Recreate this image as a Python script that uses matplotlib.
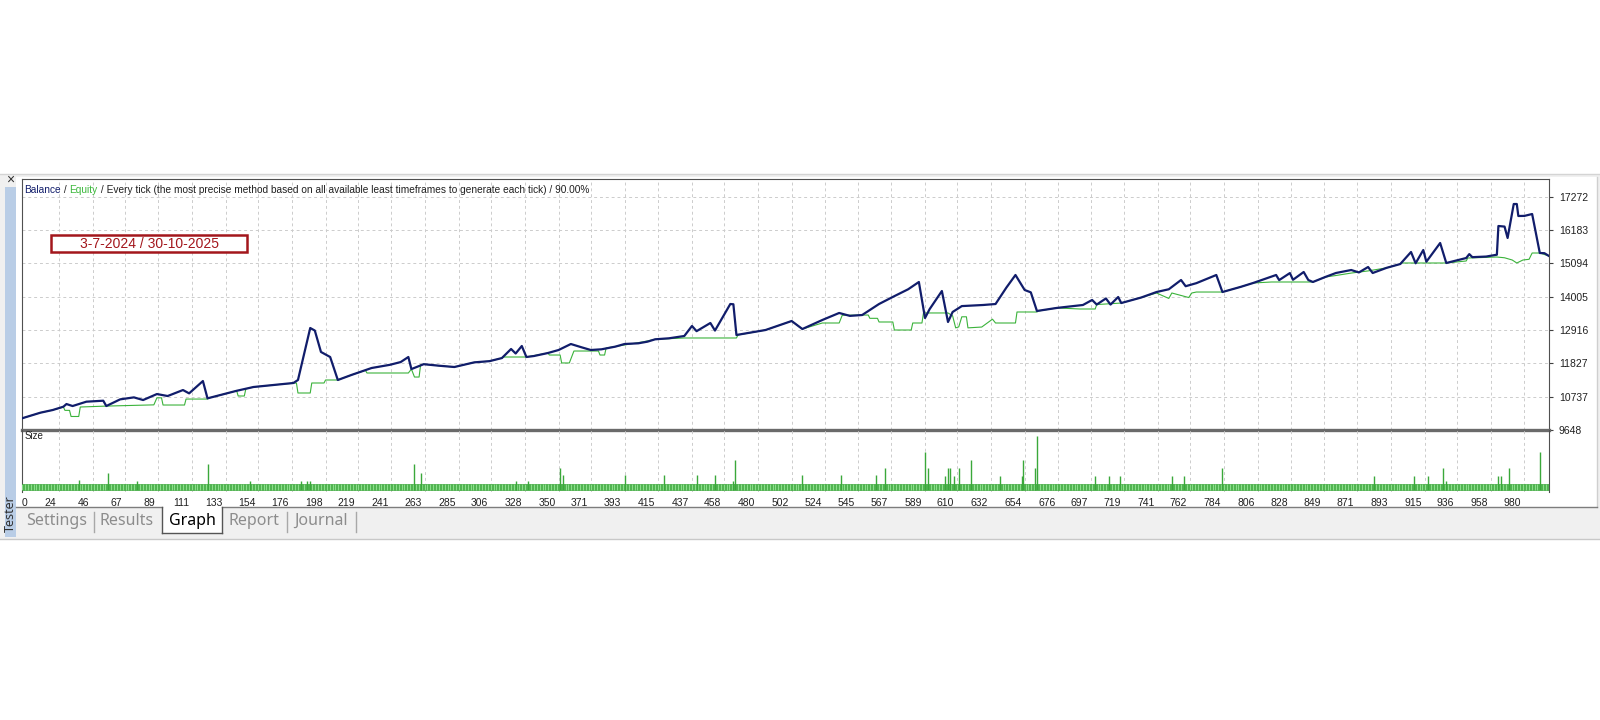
import matplotlib.pyplot as plt
from matplotlib.patches import Rectangle
from matplotlib.lines import Line2D
from matplotlib.transforms import ScaledTranslation
import numpy as np

W, H = 1600, 720

# balance line (dark blue): trade number / value
bal_trade = [0, 12, 20, 27, 29, 33, 42, 53, 55, 64, 73, 79, 88, 95, 105, 109, 118, 121, 130, 140,
             151, 160, 170, 177, 180, 188, 191, 195, 201, 206, 215, 228, 240, 247, 252, 254, 262, 272, 282, 295,
             305, 313, 319, 322, 326, 329, 334, 343, 350, 358, 365, 371, 378, 387, 393, 402, 408, 413, 422, 432,
             437, 440, 449, 452, 462, 464,
             466, 485, 502, 509, 522, 533, 540, 548, 559, 568, 578, 585, 589, 592, 600, 604, 607, 613, 627, 635,
             642, 648, 654, 658, 662, 675, 692, 698, 701, 707, 710, 715, 717, 730, 740, 748, 756, 759, 766, 779,
             783, 795, 803, 818, 820, 827, 829, 836, 839, 842, 850, 857, 867, 872, 878, 881, 890, 899, 906, 909,
             914, 916, 925, 929, 942, 944, 946, 955, 962, 963, 967, 969, 973, 975, 976, 980, 985, 990, 993, 996]
bal_value = [10030, 10214, 10301, 10410, 10497, 10432, 10574, 10606, 10432, 10650, 10715, 10628, 10824, 10759, 10955, 10846, 11249, 10683, 10800, 10930,
             11054, 11100, 11150, 11185, 11283, 12983, 12900, 12200, 12035, 11283, 11450, 11675, 11780, 11870, 12035, 11640, 11800, 11750, 11708, 11860,
             11900, 12000, 12297, 12150, 12395, 12035, 12068, 12165, 12264, 12460, 12352, 12264, 12287, 12374, 12460, 12483, 12537, 12614, 12647, 12722,
             13050, 12880, 13147, 12900, 13768, 13760,
             12755, 12918, 13212, 12950, 13245, 13475, 13380, 13408, 13768, 14000, 14250, 14488, 13310, 13600, 14193, 13180, 13507, 13700, 13736, 13768,
             14300, 14717, 14226, 14150, 13540, 13640, 13736, 13900, 13750, 13950, 13750, 13997, 13800, 13980, 14160, 14250, 14553, 14350, 14450, 14717,
             14160, 14330, 14455, 14717, 14550, 14780, 14560, 14815, 14553, 14488, 14650, 14782, 14880, 14800, 14978, 14782, 14950, 15076, 15469, 15100,
             15534, 15150, 15763, 15109, 15272, 15400, 15300, 15320, 15380, 16319, 16300, 15927, 17038, 17038, 16646, 16650, 16711, 15436, 15430, 15338]

# equity line (green, stepped)
eq_trade = [0, 12, 20, 27, 28, 31, 32, 37, 38, 55, 86, 88, 91, 92, 106, 107, 121, 122, 130, 140,
            141, 145, 146, 151, 160, 170, 179, 180, 188, 189, 197, 198, 206, 215, 224, 225, 252, 254, 256, 259,
            260, 262, 272, 282, 295, 305, 313, 314, 329, 343, 344, 351, 352, 357, 360, 376, 377, 380, 381, 393,
            405, 413, 432, 466, 467, 485, 502, 509, 522, 533, 535, 552, 553, 558, 559, 568, 569, 580, 581, 587,
            588, 604, 607, 609,
            611, 613, 616, 617, 626, 633, 635, 648, 649, 662, 663, 675, 690, 700, 701, 717, 730, 740, 748, 750,
            761, 763, 766, 783, 795, 803, 815, 838, 842, 850, 857, 867, 878, 890, 899, 900, 929, 942, 943, 962,
            967, 972, 975, 979, 983, 985, 990, 996]
eq_value = [10030, 10214, 10301, 10400, 10290, 10290, 10090, 10090, 10400, 10430, 10470, 10700, 10700, 10465, 10465, 10660, 10660, 10695, 10800, 10930,
            10760, 10760, 10990, 11054, 11100, 11150, 11185, 10858, 10858, 11185, 11185, 11283, 11283, 11450, 11600, 11512, 11512, 11640, 11380, 11380,
            11780, 11800, 11750, 11708, 11860, 11900, 12000, 12035, 12035, 12165, 12100, 12100, 11840, 11840, 12231, 12231, 12100, 12100, 12330, 12428,
            12530, 12614, 12657, 12657, 12755, 12918, 13212, 12950, 13147, 13147, 13400, 13408, 13300, 13300, 13180, 13180, 12918, 12918, 13147, 13147,
            13475, 13475, 13380, 12988,
            13020, 13350, 13350, 12988, 13015, 13272, 13147, 13147, 13507, 13507, 13540, 13640, 13605, 13605, 13750, 13800, 13980, 14128, 13950, 14128,
            13980, 14128, 14160, 14160, 14330, 14455, 14488, 14488, 14488, 14650, 14700, 14780, 14850, 14950, 15076, 15109, 15109, 15175, 15272, 15305,
            15280, 15207, 15109, 15207, 15230, 15436, 15436, 15338]

# size panel: one bar per trade, base lot plus the bigger ones
n_trades = 997
base_lot = 1.0
spike_trade = [37, 56, 75, 121, 149, 182, 186, 188, 256, 260,
               322, 330, 351, 353, 393, 419, 440, 452, 464, 465,
               509, 534, 557, 563, 589, 591, 602, 604, 605, 608,
               611, 619, 638, 652, 653, 661, 662, 700, 709, 716,
               750, 758, 783, 882, 908, 917, 927, 929, 963, 965,
               970, 990]
spike_lot = [1.7, 2.8, 1.5, 4.3, 1.5, 1.5, 1.5, 1.5, 4.3, 2.8,
             1.5, 1.5, 3.6, 2.5, 2.5, 2.5, 2.5, 2.5, 1.5, 5.0,
             2.5, 2.5, 2.5, 3.6, 6.3, 3.6, 2.3, 3.6, 3.6, 2.3,
             3.6, 5.0, 2.3, 2.3, 5.0, 3.6, 9.0, 2.3, 2.3, 2.3,
             2.3, 2.3, 3.6, 2.3, 2.3, 2.3, 3.6, 1.5, 2.3, 2.3,
             3.6, 6.3]

y_ticks = [9648, 10737, 11827, 12916, 14005, 15094, 16183, 17272]
x_ticks = [0, 24, 46, 67, 89, 111, 133, 154, 176, 198, 219, 241, 263, 285, 306, 328, 350, 371, 393, 415,
           437, 458, 480, 502, 524, 545, 567, 589, 610, 632, 654, 676, 697, 719, 741, 762, 784, 806, 828, 849,
           871, 893, 915, 936, 958, 980]

title_rest = " / Every tick (the most precise method based on all available least timeframes to generate each tick) / 90.00%"
date_text = "3-7-2024 / 30-10-2025"
tabs = ["Settings", "Results", "Graph", "Report", "Journal"]
tab_x = [57, 127, 192, 254, 321]

NAVY = "#111d6b"
GREEN = "#3bb33b"
SMALL = "Liberation Sans"


def box(x0, y0, x1, y1):
    # pixel box (top-left origin) -> figure fractions
    return [x0 / W, 1 - y1 / H, (x1 - x0) / W, (y1 - y0) / H]


def px(x, y):
    return x / W, 1 - y / H


def rect(x0, y0, x1, y1, **kw):
    l, b, w, h = box(x0, y0, x1, y1)
    fig.add_artist(Rectangle((l, b), w, h, transform=fig.transFigure, **kw))


def hline(x0, x1, y, **kw):
    fig.add_artist(Line2D([x0 / W, x1 / W], [1 - y / H, 1 - y / H], transform=fig.transFigure, **kw))


def vline(x, y0, y1, **kw):
    fig.add_artist(Line2D([x / W, x / W], [1 - y0 / H, 1 - y1 / H], transform=fig.transFigure, **kw))


fig = plt.figure(figsize=(16, 7.2), dpi=100)
fig.patch.set_facecolor("white")

# tester window chrome
rect(0, 174, 1600, 539, facecolor="#f0f0f0", edgecolor="none", zorder=0)
rect(16, 177, 1597, 507, facecolor="white", edgecolor="none", zorder=0)
hline(0, 1600, 174, color="#d4d4d4", lw=1)
hline(0, 1600, 539, color="#c8c8c8", lw=1)
vline(1597, 177, 507, color="#cfcfcf", lw=1)
rect(5, 187, 16, 537, facecolor="#b9cde6", edgecolor="none", zorder=1)
fig.text(*px(10, 180), "\u00d7", ha="center", va="center", fontsize=10, color="#303030", family=SMALL)
fig.text(*px(10.5, 514), "Tester", rotation=90, ha="center", va="center", fontsize=9, color="#303030",
         family="Noto Sans")

# tabs at the bottom
hline(16, 162, 507, color="#7d7d7d", lw=1)
hline(222, 1597, 507, color="#7d7d7d", lw=1)
rect(162, 507, 222, 533, facecolor="white", edgecolor="none", zorder=1)
vline(162, 507, 533, color="#555555", lw=1)
vline(222, 507, 533, color="#555555", lw=1)
hline(162, 222, 533, color="#555555", lw=1)
for sep in [94, 287, 356]:
    vline(sep, 512, 532, color="#a8a8a8", lw=1)
for name, tx in zip(tabs, tab_x):
    fig.text(*px(tx, 521), name, ha="center", va="center", fontsize=11.5, family="Noto Sans",
             color="black" if name == "Graph" else "#8c8c8c")

# main balance / equity panel
ax = fig.add_axes(box(22, 179, 1549, 430))
ax.set_facecolor("white")
ax.set_xlim(0, 996)
ax.set_ylim(9648, 17856)
ax.set_xticks(x_ticks[1:])
ax.set_yticks(y_ticks)
ax.grid(True, ls=(0, (3, 3)), color="#cccccc", lw=0.7)
ax.tick_params(axis="x", length=0, labelbottom=False)
ax.yaxis.tick_right()
ax.tick_params(axis="y", length=3, width=0.8, color="#404040", labelsize=7.5, pad=4, labelcolor="#202020")
for lbl in ax.get_yticklabels():
    lbl.set_family(SMALL)
for side in ["top", "left", "right"]:
    ax.spines[side].set_color("#505050")
    ax.spines[side].set_linewidth(0.8)
ax.spines["bottom"].set_color("#6a6a6a")
ax.spines["bottom"].set_linewidth(2.4)
ax.plot(eq_trade, eq_value, color=GREEN, lw=0.8, zorder=3)
ax.plot(bal_trade, bal_value, color=NAVY, lw=1.6, zorder=4)

# title line with coloured words
renderer = fig.canvas.get_renderer()
tx, ty = px(24, 190)
for part, col in [("Balance", NAVY), (" / ", "#202020"), ("Equity", "#3cb83c"), (title_rest, "#202020")]:
    t = fig.text(tx, ty, part, ha="left", va="center", fontsize=7.3, color=col, family=SMALL)
    bb = t.get_window_extent(renderer)
    tx = bb.x1 / W

# date box
rect(51, 235, 247, 252, facecolor="white", edgecolor="#a3161c", lw=1.8, zorder=5)
fig.text(*px(149, 243.5), date_text, ha="center", va="center", fontsize=10, color="#a3161c",
         family=SMALL, zorder=6)

# size panel
sx = fig.add_axes(box(22, 430, 1549, 492))
sx.set_facecolor("none")
sx.set_xlim(0, 996)
sx.set_ylim(-1 / 3, 10)
trades = np.arange(n_trades)
sx.bar(trades, np.full(n_trades, base_lot), width=1.0, color="#8ade8a", edgecolor="#2f9f2f", lw=0.4, zorder=3)
sx.vlines(spike_trade, 0, spike_lot, color="#3aa83a", lw=1.0, zorder=4)
sx.set_xticks(x_ticks)
sx.set_xticklabels([str(v) for v in x_ticks])
sx.set_yticks([])
sx.grid(True, axis="x", ls=(0, (3, 3)), color="#cccccc", lw=0.7, zorder=0)
sx.tick_params(axis="x", length=0, labelsize=7.5, pad=4, labelcolor="#202020")
shift = ScaledTranslation(-3 / 100, 0, fig.dpi_scale_trans)
for i, lbl in enumerate(sx.get_xticklabels()):
    lbl.set_family(SMALL)
    if i == 0:
        lbl.set_ha("left")
    else:
        lbl.set_ha("right")
        lbl.set_transform(lbl.get_transform() + shift)
sx.spines["top"].set_visible(False)
sx.spines["bottom"].set_visible(False)
for side in ["left", "right"]:
    sx.spines[side].set_color("#505050")
    sx.spines[side].set_linewidth(0.8)
sx.text(0.002, 0.86, "Size", transform=sx.transAxes, fontsize=7, color="#202020", family=SMALL)

fig.savefig("out.png", dpi=100, facecolor="white")
